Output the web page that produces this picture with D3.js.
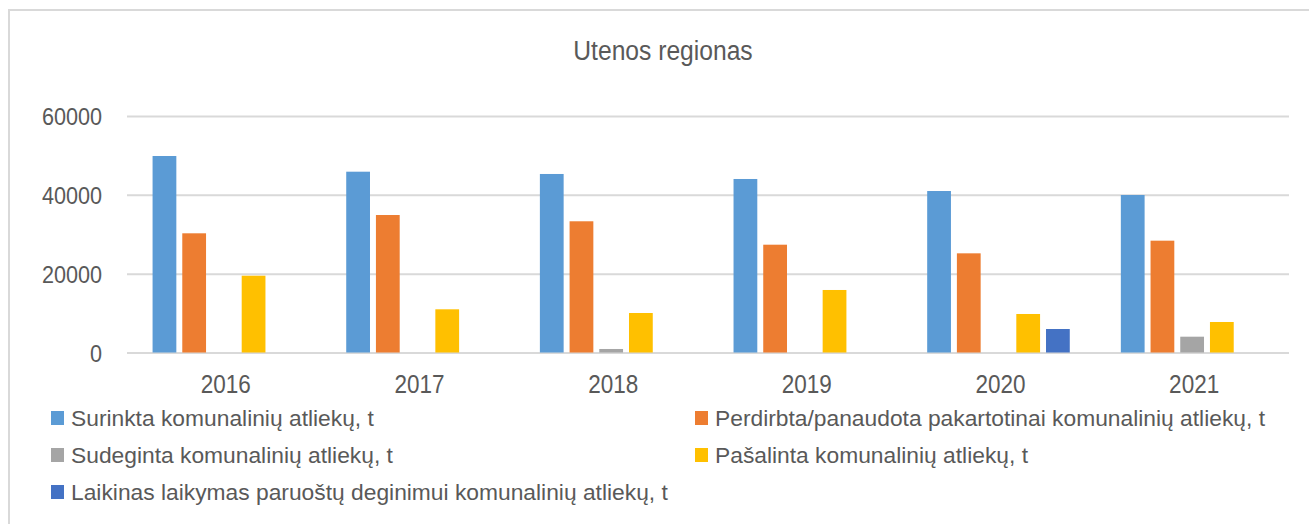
<!DOCTYPE html>
<html>
<head>
<meta charset="utf-8">
<script src="https://cdn.jsdelivr.net/npm/d3@7"></script>
<style>
  body { margin: 0; background: #fff; }
  svg text { font-family: "Liberation Sans", Arial, sans-serif; fill: #595959; }
</style>
</head>
<body>
<svg id="chart" width="1309" height="524"></svg>
<script>
var years = ["2016", "2017", "2018", "2019", "2020", "2021"];
var surinkta = [49850, 45870, 45290, 44020, 40970, 39960];
var perdirbta = [30240, 34880, 33290, 27350, 25160, 28370];
var sudeginta = [0, 0, 890, 0, 0, 4010];
var pasalinta = [19480, 10960, 10020, 15860, 9770, 7740];
var laikinas = [0, 0, 0, 0, 5960, 0];
var yTicks = [0, 20000, 40000, 60000];

var seriesNames = [
    "Surinkta komunalinių atliekų, t",
    "Perdirbta/panaudota pakartotinai komunalinių atliekų, t",
    "Sudeginta komunalinių atliekų, t",
    "Pašalinta komunalinių atliekų, t",
    "Laikinas laikymas paruoštų deginimui komunalinių atliekų, t"
];
var colors = ["#5B9BD5", "#ED7D31", "#A5A5A5", "#FFC000", "#4472C4"];
var seriesValues = [surinkta, perdirbta, sudeginta, pasalinta, laikinas];

(function chart() {
    var svg = d3.select("#chart"),
        left = 127, right = 1289, top = 116, bottom = 352.5,
        width = right - left;

    // chart frame
    svg.append("rect")
        .attr("x", 9).attr("y", 10)
        .attr("width", 1320).attr("height", 600)
        .attr("fill", "none")
        .attr("stroke", "#D9D9D9")
        .attr("stroke-width", 2);

    svg.append("text")
        .attr("text-anchor", "middle")
        .attr("transform", "translate(663,60) scale(0.88,1)")
        .style("font-size", "28px")
        .text("Utenos regionas");

    var x0 = d3.scaleBand()
        .domain(years)
        .range([left, right])
        .paddingInner(0.233)
        .paddingOuter(0.1167);

    var x1 = d3.scaleBand()
        .domain(d3.range(seriesNames.length))
        .range([0, x0.bandwidth()])
        .paddingInner(0.2)
        .paddingOuter(0.1);

    var y = d3.scaleLinear()
        .domain([0, 60000])
        .range([bottom, top]);

    var yAxis = svg.append("g")
        .attr("transform", "translate(" + left + ",0)")
        .call(d3.axisLeft(y).tickValues(yTicks).tickSize(-width).tickFormat(d3.format("d")));
    yAxis.select(".domain").remove();
    yAxis.selectAll("line").attr("stroke", "#D9D9D9").attr("stroke-width", 2);
    yAxis.selectAll("text")
        .attr("x", null).attr("dy", null)
        .attr("fill", "#595959")
        .attr("transform", "translate(-25,8.5) scale(0.9,1)")
        .style("font-size", "24px");

    var groups = svg.append("g").selectAll("g")
        .data(years)
        .join("g")
        .attr("transform", function(d) { return "translate(" + x0(d) + ",0)"; });

    groups.selectAll("rect")
        .data(function(d, i) {
            return seriesValues.map(function(s, k) { return {k: k, value: s[i]}; });
        })
        .join("rect")
        .attr("x", function(d) { return x1(d.k); })
        .attr("width", x1.bandwidth())
        .attr("y", function(d) { return y(d.value); })
        .attr("height", function(d) { return y(0) - y(d.value); })
        .attr("fill", function(d) { return colors[d.k]; });

    // category labels
    svg.append("g").selectAll("text")
        .data(years)
        .join("text")
        .attr("text-anchor", "middle")
        .attr("transform", function(d) {
            return "translate(" + (x0(d) + x0.bandwidth() / 2 + 2) + ",393) scale(0.9,1)";
        })
        .style("font-size", "25px")
        .text(function(d) { return d; });

    // legend, two columns
    var colX = [51, 695], rowY = [418, 455, 492];
    var legend = svg.append("g").selectAll("g")
        .data(seriesNames)
        .join("g")
        .attr("transform", function(d, i) {
            return "translate(" + colX[i % 2] + "," + rowY[Math.floor(i / 2)] + ")";
        });

    legend.append("rect")
        .attr("x", 0).attr("y", -7)
        .attr("width", 13).attr("height", 14)
        .attr("fill", function(d, i) { return colors[i]; });

    legend.append("text")
        .attr("x", 20).attr("y", 8)
        .style("font-size", "22.8px")
        .text(function(d) { return d; });
})();
</script>
</body>
</html>
